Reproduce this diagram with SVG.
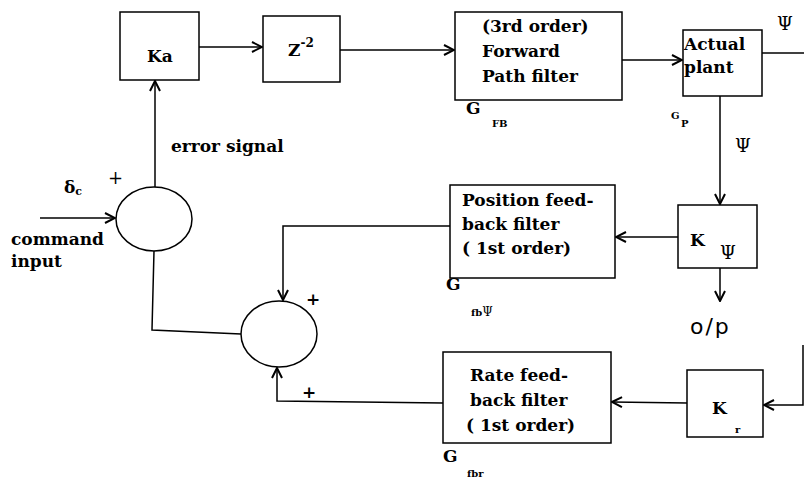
<svg xmlns="http://www.w3.org/2000/svg" width="804" height="480" viewBox="0 0 804 480">
<defs>
<marker id="ah" viewBox="0 0 12 12" refX="11" refY="6" markerWidth="12" markerHeight="12" markerUnits="userSpaceOnUse" orient="auto">
<path d="M1,1 L11,6 L1,11" fill="none" stroke="#000" stroke-width="2"/>
</marker>
<style>
.b{fill:#fff;stroke:#000;stroke-width:1.5}
.c{fill:none;stroke:#000;stroke-width:1.5}
.t{font-family:"DejaVu Serif",serif;font-weight:bold;font-size:17px;fill:#000}
.s{font-family:"DejaVu Serif",serif;font-weight:bold;font-size:10px;fill:#000}
.p{font-family:"DejaVu Serif",serif;font-weight:normal;font-size:18px;fill:#000}
.n{font-family:"DejaVu Sans",sans-serif;font-weight:normal;font-size:22px;fill:#000}
</style>
</defs>
<g id="connectors">
<path class="c" d="M199,47 L262,47" marker-end="url(#ah)"/>
<path class="c" d="M340,50 L454,50" marker-end="url(#ah)"/>
<path class="c" d="M622,60 L682,60" marker-end="url(#ah)"/>
<path class="c" d="M762,53 L804,53"/>
<path class="c" d="M720,96 L720,204" marker-end="url(#ah)"/>
<path class="c" d="M678,237 L616,237" marker-end="url(#ah)"/>
<path class="c" d="M720,268 L720,301" marker-end="url(#ah)"/>
<path class="c" d="M450,226 L283,226 L283,300" marker-end="url(#ah)"/>
<path class="c" d="M40,218 L115,218" marker-end="url(#ah)"/>
<path class="c" d="M155,187 L155,81" marker-end="url(#ah)"/>
<path class="c" d="M154,251 L152,330 L241,334"/>
<path class="c" d="M443,403 L277,401 L277,368" marker-end="url(#ah)"/>
<path class="c" d="M687,403 L612,402" marker-end="url(#ah)"/>
<path class="c" d="M803,345 L803,405 L764,405" marker-end="url(#ah)"/>
</g>
<g id="ka"><rect class="b" x="120" y="12" width="79" height="68"/><text class="t" x="147" y="62" font-size="20">Ka</text></g>
<g id="z2"><rect class="b" x="263" y="16" width="77" height="66"/><text class="t" x="288" y="56" font-size="18">Z<tspan dy="-9" font-size="12">-2</tspan></text></g>
<g id="fwd"><rect class="b" x="455" y="12" width="167" height="88"/>
<text class="t" x="482" y="32">(3rd order)</text><text class="t" x="482" y="57">Forward</text><text class="t" x="482" y="82">Path filter</text></g>
<g id="gfb"><text class="t" x="466" y="114" font-size="19">G</text><text class="s" x="492" y="127">FB</text></g>
<g id="plant"><rect class="b" x="683" y="30" width="79" height="66"/>
<text class="t" x="684" y="50">Actual</text><text class="t" x="684" y="73">plant</text></g>
<g id="gp"><text class="s" x="671" y="119" font-size="11">G</text><text class="s" x="681" y="127">P</text></g>
<text class="p" x="777" y="30">Ψ</text>
<text class="p" x="735" y="152">Ψ</text>
<g id="kpsi"><rect class="b" x="678" y="205" width="79" height="63"/><text class="t" x="690" y="246" font-size="19">K</text><text class="p" x="720" y="259" font-size="15">Ψ</text></g>
<g id="posf"><rect class="b" x="450" y="185" width="165" height="93"/>
<text class="t" x="462" y="206">Position feed-</text><text class="t" x="462" y="230">back filter</text><text class="t" x="462" y="254">( 1st order)</text></g>
<g id="gfbpsi"><text class="t" x="446" y="290" font-size="19">G</text><text class="s" x="471" y="316">fb<tspan font-weight="normal" font-size="12">Ψ</tspan></text></g>
<text class="n" x="690" y="334" letter-spacing="2">o/p</text>
<g id="sum1"><ellipse class="b" cx="154" cy="219" rx="38" ry="32"/></g>
<text class="t" x="64" y="193" font-size="18">δ<tspan font-size="11" dy="2">c</tspan></text>
<text class="p" x="108" y="184" font-size="16">+</text>
<text class="t" x="11" y="245">command</text>
<text class="t" x="11" y="267">input</text>
<text class="t" x="171" y="152" font-size="15">error signal</text>
<g id="sum2"><ellipse class="b" cx="279" cy="334" rx="38" ry="33"/></g>
<text class="t" x="306" y="305" font-size="14">+</text>
<text class="t" x="302" y="398" font-size="14">+</text>
<g id="ratef"><rect class="b" x="443" y="352" width="168" height="91"/>
<text class="t" x="470" y="381">Rate feed-</text><text class="t" x="470" y="406">back filter</text><text class="t" x="466" y="431">( 1st order)</text></g>
<g id="gfbr"><text class="t" x="443" y="462" font-size="19">G</text><text class="s" x="467" y="477">fbr</text></g>
<g id="kr"><rect class="b" x="687" y="370" width="76" height="67"/><text class="t" x="712" y="414" font-size="19">K</text><text class="s" x="735" y="433">r</text></g>
</svg>
